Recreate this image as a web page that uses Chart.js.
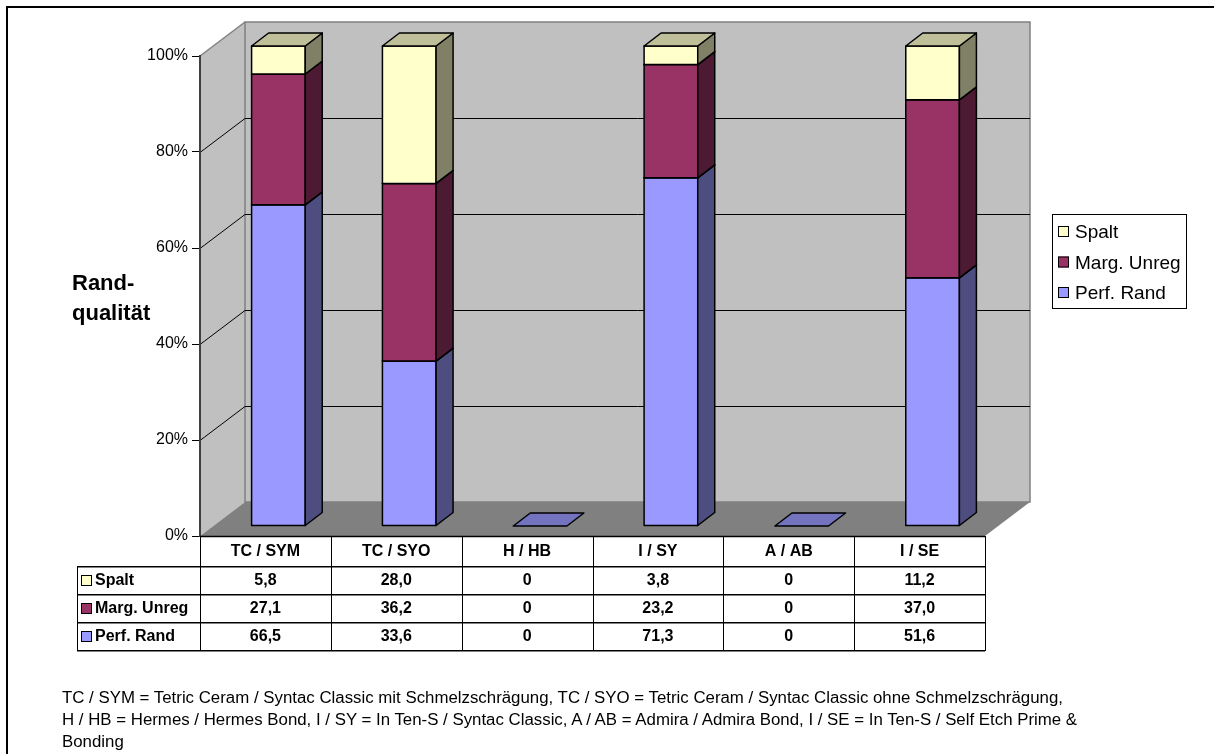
<!DOCTYPE html>
<html>
<head>
<meta charset="utf-8">
<script src="https://cdn.jsdelivr.net/npm/chart.js@4.4.1/dist/chart.umd.min.js"></script>
<style>
  html, body { margin: 0; padding: 0; background: #fff; }
  #wrap { position: relative; width: 1214px; height: 754px; overflow: hidden; }
  #frame { position: absolute; left: 6px; top: 6px; width: 1300px; height: 900px; border: 2px solid #000; box-sizing: border-box; }
  #chart { position: absolute; left: 0; top: 0; }
  #ytitle { position: absolute; left: 72px; top: 268px; font: bold 22px "Liberation Sans", Arial, sans-serif; line-height: 30px; color: #000; }
  #note { position: absolute; left: 62px; top: 687px; font: 16px "Liberation Sans", Arial, sans-serif; line-height: 22px; white-space: nowrap; transform-origin: 0 0; color: #000; }
</style>
</head>
<body>
<div id="wrap">
  <div id="frame"></div>
  <canvas id="chart" width="1214" height="754"></canvas>
  <div id="ytitle">Rand-<br>qualität</div>
  <div id="note"><span>TC / SYM = Tetric Ceram / Syntac Classic mit Schmelzschrägung, TC / SYO = Tetric Ceram / Syntac Classic ohne Schmelzschrägung,</span><br><span>H / HB = Hermes / Hermes Bond, I / SY = In Ten-S / Syntac Classic, A / AB = Admira / Admira Bond, I / SE = In Ten-S / Self Etch Prime &amp;</span><br><span>Bonding</span></div>
</div>
<script>
/* =========================
   DATEN
========================= */

const categories = ["TC / SYM", "TC / SYO", "H / HB", "I / SY", "A / AB", "I / SE"];
const seriesNames = ["Perf. Rand", "Marg. Unreg", "Spalt"];
const perfRand = [66.5, 33.6, 0, 71.3, 0, 51.6];
const margUnreg = [27.1, 36.2, 0, 23.2, 0, 37.0];
const spalt = [5.8, 28.0, 0, 3.8, 0, 11.2];
const yTicks = [0, 20, 40, 60, 80, 100];

/* =========================
   FARBEN / 3D
========================= */

const colors = [
  { front: "#9999FF", side: "#4D4D80", top: "#7373BF" },
  { front: "#993366", side: "#4D1A33", top: "#73264D" },
  { front: "#FFFFCC", side: "#808066", top: "#BFBF99" }
];

const WALL = { dx: 45, dy: -34 };   // Tiefe der Rückwand
const FRONT = { dx: 13, dy: -10 };  // Vorderseite der Säulen
const DEPTH = { dx: 17, dy: -13 };  // Säulentiefe
const FONT = '"Liberation Sans", Arial, sans-serif';

// 100%-gestapelt wie in Excel
const raw = [perfRand, margUnreg, spalt];
const totals = categories.map((c, i) => raw.reduce((s, arr) => s + arr[i], 0));
const pct = arr => arr.map((v, i) => (totals[i] ? v / totals[i] * 100 : 0));

function fmt(v) {
  return v === 0 ? "0" : v.toFixed(1).replace(".", ",");
}

function poly(ctx, pts, fill, stroke, lw) {
  ctx.beginPath();
  ctx.moveTo(pts[0][0], pts[0][1]);
  for (let k = 1; k < pts.length; k++) ctx.lineTo(pts[k][0], pts[k][1]);
  ctx.closePath();
  if (fill) { ctx.fillStyle = fill; ctx.fill(); }
  if (stroke) { ctx.strokeStyle = stroke; ctx.lineWidth = lw || 1; ctx.stroke(); }
}

function line(ctx, x1, y1, x2, y2, color, lw) {
  ctx.beginPath();
  ctx.moveTo(x1, y1);
  ctx.lineTo(x2, y2);
  ctx.strokeStyle = color;
  ctx.lineWidth = lw || 1;
  ctx.stroke();
}

/* =========================
   WÄNDE + BODEN
========================= */

const wallsPlugin = {
  id: "walls",
  beforeDraw(chart) {
    const ctx = chart.ctx;
    const a = chart.chartArea;
    const L = a.left, R = a.right, T = a.top, B = a.bottom;
    ctx.save();
    // Seitenwand
    poly(ctx, [[L, T], [L + WALL.dx, T + WALL.dy], [L + WALL.dx, B + WALL.dy], [L, B]], "#C0C0C0", null);
    // Rückwand
    poly(ctx, [[L + WALL.dx, T + WALL.dy], [R + WALL.dx, T + WALL.dy], [R + WALL.dx, B + WALL.dy], [L + WALL.dx, B + WALL.dy]], "#C0C0C0", "#808080", 1.5);
    // Boden
    poly(ctx, [[L, B], [L + WALL.dx, B + WALL.dy], [R + WALL.dx, B + WALL.dy], [R, B]], "#808080", null);
    line(ctx, L, T, L + WALL.dx, T + WALL.dy, "#808080", 1.5);

    // Gitterlinien
    const ys = chart.scales.y;
    yTicks.slice(1, -1).forEach(t => {
      const py = Math.round(ys.getPixelForValue(t)) + 0.5;
      ctx.beginPath();
      ctx.moveTo(L, py);
      ctx.lineTo(L + WALL.dx, py + WALL.dy);
      ctx.lineTo(R + WALL.dx, py + WALL.dy);
      ctx.strokeStyle = "#000";
      ctx.lineWidth = 1;
      ctx.stroke();
    });
    ctx.restore();
  }
};

/* =========================
   3D SÄULEN
========================= */

const barsPlugin = {
  id: "bars3d",
  afterDatasetsDraw(chart) {
    const ctx = chart.ctx;
    ctx.save();
    ctx.lineJoin = "round";
    categories.forEach((c, i) => {
      let drawn = false;
      seriesNames.forEach((n, d) => {
        const el = chart.getDatasetMeta(d).data[i];
        const p = el.getProps(["x", "y", "base", "width"], true);
        if (Math.abs(p.base - p.y) < 0.5) return;
        drawn = true;
        const l = p.x - p.width / 2 + FRONT.dx;
        const r = l + p.width;
        const t = p.y + FRONT.dy;
        const b = p.base + FRONT.dy;
        const col = colors[d];
        poly(ctx, [[l, t], [r, t], [r, b], [l, b]], col.front, "#000", 1.5);
        poly(ctx, [[r, t], [r + DEPTH.dx, t + DEPTH.dy], [r + DEPTH.dx, b + DEPTH.dy], [r, b]], col.side, "#000", 1.5);
        poly(ctx, [[l, t], [r, t], [r + DEPTH.dx, t + DEPTH.dy], [l + DEPTH.dx, t + DEPTH.dy]], col.top, "#000", 1.5);
      });
      if (!drawn) {
        // leere Säule: nur die flache Deckfläche
        const el = chart.getDatasetMeta(0).data[i];
        const p = el.getProps(["x", "base", "width"], true);
        const l = p.x - p.width / 2 + FRONT.dx;
        const r = l + p.width;
        const b = p.base + FRONT.dy;
        poly(ctx, [[l, b], [r, b], [r + DEPTH.dx, b + DEPTH.dy], [l + DEPTH.dx, b + DEPTH.dy]], colors[0].top, "#000", 1.5);
      }
    });
    ctx.restore();
  }
};

/* =========================
   DATENTABELLE + LEGENDE
========================= */

const tablePlugin = {
  id: "dataTable",
  afterDraw(chart) {
    const ctx = chart.ctx;
    const a = chart.chartArea;
    const xs = chart.scales.x;
    const half = (a.right - a.left) / categories.length / 2;
    const rows = [a.bottom, a.bottom + 30, a.bottom + 58, a.bottom + 86, a.bottom + 114];
    const labelLeft = 77;
    const tableRows = [
      { name: "Spalt", vals: spalt, col: colors[2].front },
      { name: "Marg. Unreg", vals: margUnreg, col: colors[1].front },
      { name: "Perf. Rand", vals: perfRand, col: colors[0].front }
    ];

    ctx.save();
    // Linien
    for (let r = 1; r < rows.length; r++) {
      const y = Math.round(rows[r]) + 0.5;
      line(ctx, labelLeft, y + 1, a.right, y + 1, "#808080", 1);
      line(ctx, labelLeft, y, a.right, y, "#000", 1);
    }
    line(ctx, a.left, rows[0] + 0.5, a.right, rows[0] + 0.5, "#000", 1.5);
    line(ctx, labelLeft + 0.5, rows[1], labelLeft + 0.5, rows[4] + 1, "#000", 1);
    categories.forEach((c, i) => {
      const x = Math.round(xs.getPixelForValue(i) - half) + 0.5;
      line(ctx, x, rows[0], x, rows[4] + 1, "#000", 1);
    });
    line(ctx, Math.round(a.right) + 0.5, rows[0], Math.round(a.right) + 0.5, rows[4] + 1, "#000", 1);

    // Texte
    ctx.fillStyle = "#000";
    ctx.font = "bold 16px " + FONT;
    ctx.textAlign = "center";
    ctx.textBaseline = "middle";
    categories.forEach((c, i) => {
      ctx.fillText(c, xs.getPixelForValue(i), (rows[0] + rows[1]) / 2 + 1);
    });
    tableRows.forEach((row, r) => {
      const cy = (rows[r + 1] + rows[r + 2]) / 2 + 1;
      row.vals.forEach((v, i) => {
        ctx.textAlign = "center";
        ctx.fillStyle = "#000";
        ctx.fillText(fmt(v), xs.getPixelForValue(i), cy);
      });
      ctx.fillStyle = row.col;
      ctx.fillRect(81, cy - 6, 11, 11);
      ctx.strokeStyle = "#000";
      ctx.lineWidth = 1;
      ctx.strokeRect(81.5, cy - 5.5, 10, 10);
      ctx.fillStyle = "#000";
      ctx.textAlign = "left";
      ctx.fillText(row.name, 95, cy);
    });

    // Legende
    ctx.strokeStyle = "#000";
    ctx.lineWidth = 1;
    ctx.strokeRect(1052.5, 214.5, 134, 94);
    ctx.font = "19px " + FONT;
    ctx.textAlign = "left";
    tableRows.forEach((row, r) => {
      const cy = 232 + r * 30.5;
      ctx.fillStyle = row.col;
      ctx.fillRect(1058, cy - 6, 11, 11);
      ctx.strokeRect(1058.5, cy - 5.5, 10, 10);
      ctx.fillStyle = "#000";
      ctx.fillText(row.name, 1075, cy + 1);
    });
    ctx.restore();
  }
};

/* =========================
   CHART
========================= */

Chart.defaults.font.family = FONT;

new Chart(document.getElementById("chart"), {
  type: "bar",
  data: {
    labels: categories,
    datasets: raw.map((arr, d) => ({
      label: seriesNames[d],
      data: pct(arr),
      backgroundColor: "rgba(0,0,0,0)",
      borderWidth: 0,
      categoryPercentage: 1,
      barPercentage: 0.41
    }))
  },
  options: {
    responsive: false,
    animation: false,
    devicePixelRatio: 1,
    layout: { padding: { left: 0, top: 56, right: 229, bottom: 0 } },
    plugins: {
      legend: { display: false },
      tooltip: { enabled: false }
    },
    scales: {
      x: {
        stacked: true,
        ticks: { display: false },
        grid: { display: false },
        border: { display: false },
        afterFit(s) { s.height = 218; }
      },
      y: {
        stacked: true,
        min: 0,
        max: 100,
        afterBuildTicks(s) { s.ticks = yTicks.map(v => ({ value: v })); },
        ticks: {
          callback: v => v + "%",
          color: "#000",
          font: { size: 16, family: FONT },
          padding: 4
        },
        grid: { drawOnChartArea: false, tickLength: 8, color: "#000", lineWidth: 1 },
        border: { color: "#404040", width: 2 },
        afterFit(s) { s.width = 200; }
      }
    }
  },
  plugins: [wallsPlugin, barsPlugin, tablePlugin]
});

// Fußnote auf Breite der Vorlage bringen
const note = document.getElementById("note");
const w = note.querySelector("span").getBoundingClientRect().width;
note.style.transform = "scaleX(" + (1001 / w).toFixed(3) + ")";
</script>
</body>
</html>
